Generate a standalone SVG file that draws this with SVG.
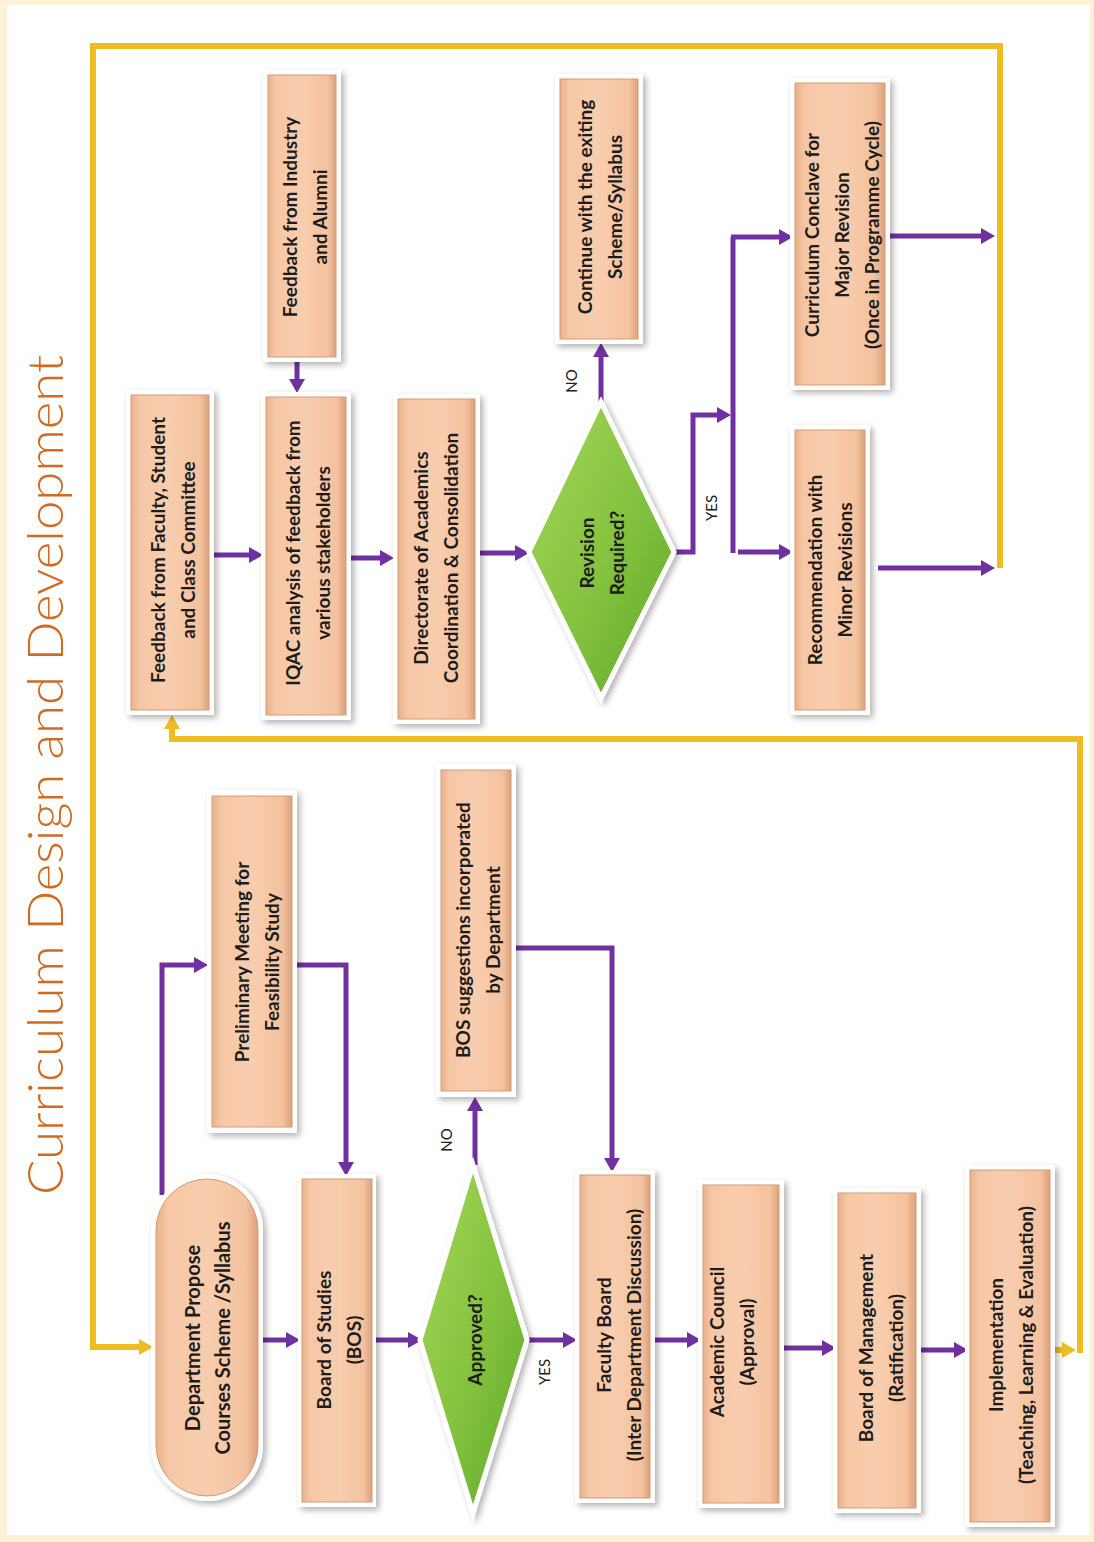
<svg xmlns="http://www.w3.org/2000/svg" width="1094" height="1542" viewBox="0 0 1094 1542">
<defs>
<linearGradient id="peach" x1="0" y1="0" x2="1" y2="0">
<stop offset="0" stop-color="#e9b28c"/>
<stop offset="0.12" stop-color="#f6c7a6"/>
<stop offset="0.5" stop-color="#f8cdae"/>
<stop offset="0.88" stop-color="#f4c29f"/>
<stop offset="1" stop-color="#dba17b"/>
</linearGradient>
<linearGradient id="green" x1="0" y1="0" x2="1" y2="1">
<stop offset="0" stop-color="#a6d65a"/>
<stop offset="0.5" stop-color="#86c440"/>
<stop offset="1" stop-color="#5fa828"/>
</linearGradient>
<filter id="sh" x="-20%" y="-20%" width="140%" height="140%">
<feDropShadow dx="3" dy="3" stdDeviation="3" flood-color="#000" flood-opacity="0.3"/>
</filter>
<marker id="ap" viewBox="0 0 14 16" markerWidth="14" markerHeight="16" refX="4" refY="8" orient="auto" markerUnits="userSpaceOnUse">
<path d="M0,0 L14,8 L0,16 z" fill="#7030a0"/>
</marker>
<marker id="ay" viewBox="0 0 14 16" markerWidth="14" markerHeight="16" refX="4" refY="8" orient="auto" markerUnits="userSpaceOnUse">
<path d="M0,0 L14,8 L0,16 z" fill="#eebd22"/>
</marker>
<style>
.box{fill:#ffffff;filter:url(#sh)}
.in{fill:url(#peach);stroke:#d39a74;stroke-width:1}
.dia{fill:url(#green);stroke:#ffffff;stroke-width:5;filter:url(#sh)}
.t{font-family:"Lato","Liberation Sans",sans-serif;font-weight:bold;font-size:19px;fill:#1c1c1c;text-anchor:middle}
.lbl{font-family:"Lato","Liberation Sans",sans-serif;font-size:15px;fill:#222;text-anchor:middle}
.p{fill:none;stroke:#7030a0;stroke-width:5;marker-end:url(#ap)}
.pn{fill:none;stroke:#7030a0;stroke-width:5}
.y{fill:none;stroke:#eebd22;stroke-width:6;marker-end:url(#ay)}
.title{font-family:"Lato","Liberation Sans",sans-serif;font-weight:300;font-size:50px;fill:#cf6c22;text-anchor:middle}
</style>
</defs>
<rect x="0" y="0" width="1094" height="1542" fill="#fdf2d8"/>
<rect x="7" y="5" width="1083" height="1530" fill="#ffffff"/>
<text class="title" transform="translate(0 775) rotate(-90)" x="0" y="63" textLength="840" lengthAdjust="spacingAndGlyphs">Curriculum Design and Development</text>

<g id="connectors">
<path class="y" d="M1000,568 V46 H93 V1347 H143"/>
<path class="y" d="M1048,1350 H1066"/>
<path class="y" d="M1080,1353 V739 H172 V725"/>
<path class="p" d="M262,1340 H290"/>
<path class="p" d="M376,1340 H412"/>
<path class="p" d="M527,1340 H567"/>
<path class="p" d="M654,1340 H691"/>
<path class="p" d="M783,1348 H826"/>
<path class="p" d="M920,1350 H958"/>
<path class="p" d="M475,1165 V1107"/>
<path class="p" d="M513,948 H612 V1162"/>
<path class="p" d="M162,1195 V965 H198"/>
<path class="p" d="M292,965 H346 V1166"/>
<path class="p" d="M212,555 H253"/>
<path class="p" d="M297,360 V383"/>
<path class="p" d="M350,558 H384"/>
<path class="p" d="M480,553 H519"/>
<path class="p" d="M601,402 V353"/>
<path class="p" d="M673,552 H693 V415 H721"/>
<path class="pn" d="M733,553 V237"/>
<path class="p" d="M731,237 H783"/>
<path class="p" d="M738,552 H783"/>
<path class="p" d="M890,236 H985"/>
<path class="p" d="M878,568 H985"/>
<text class="lbl" transform="translate(452 1140) rotate(-90)" x="0" y="0">NO</text>
<text class="lbl" transform="translate(550 1372) rotate(-90)" x="0" y="0">YES</text>
<text class="lbl" transform="translate(577 381) rotate(-90)" x="0" y="0">NO</text>
<text class="lbl" transform="translate(717 508) rotate(-90)" x="0" y="0">YES</text>
</g>

<g id="dept">
<rect class="box" x="151" y="1174" width="112" height="327" rx="56"/>
<rect class="in" x="156" y="1179" width="102" height="317" rx="51"/>
<g transform="translate(208 1338) rotate(-90)"><text class="t" style="font-size:20px"><tspan x="0" y="-8">Department Propose</tspan><tspan x="0" y="22">Courses Scheme /Syllabus</tspan></text></g>
</g>
<g id="bos">
<rect class="box" x="298" y="1174" width="78" height="333"/>
<rect class="in" x="302" y="1179" width="70" height="323"/>
<g transform="translate(339 1340) rotate(-90)"><text class="t"><tspan x="0" y="-8">Board of Studies</tspan><tspan x="0" y="22">(BOS)</tspan></text></g>
</g>
<g id="approved">
<polygon class="dia" points="473,1165 527,1340 473,1513 420,1340"/>
<g transform="translate(475 1340) rotate(-90)"><text class="t" x="0" y="7">Approved?</text></g>
</g>
<g id="bossug">
<rect class="box" x="436" y="764" width="80" height="333"/>
<rect class="in" x="441" y="770" width="70" height="321"/>
<g transform="translate(478 930) rotate(-90)"><text class="t"><tspan x="0" y="-8">BOS suggestions incorporated</tspan><tspan x="0" y="22">by Department</tspan></text></g>
</g>
<g id="prelim">
<rect class="box" x="207" y="790" width="90" height="343"/>
<rect class="in" x="212" y="796" width="80" height="331"/>
<g transform="translate(257 962) rotate(-90)"><text class="t"><tspan x="0" y="-8">Preliminary Meeting for</tspan><tspan x="0" y="22">Feasibility Study</tspan></text></g>
</g>
<g id="facultyboard">
<rect class="box" x="575" y="1170" width="80" height="333"/>
<rect class="in" x="580" y="1175" width="70" height="323"/>
<g transform="translate(619 1335) rotate(-90)"><text class="t"><tspan x="0" y="-8">Faculty Board</tspan><tspan x="0" y="22">(Inter Department Discussion)</tspan></text></g>
</g>
<g id="academic">
<rect class="box" x="698" y="1180" width="86" height="328"/>
<rect class="in" x="703" y="1185" width="76" height="318"/>
<g transform="translate(732 1342) rotate(-90)"><text class="t"><tspan x="0" y="-8">Academic Council</tspan><tspan x="0" y="22">(Approval)</tspan></text></g>
</g>
<g id="bom">
<rect class="box" x="833" y="1188" width="88" height="325"/>
<rect class="in" x="838" y="1193" width="78" height="315"/>
<g transform="translate(881 1348) rotate(-90)"><text class="t"><tspan x="0" y="-8">Board of Management</tspan><tspan x="0" y="22">(Ratification)</tspan></text></g>
</g>
<g id="impl">
<rect class="box" x="965" y="1165" width="90" height="362"/>
<rect class="in" x="970" y="1170" width="80" height="352"/>
<g transform="translate(1011 1345) rotate(-90)"><text class="t"><tspan x="0" y="-8">Implementation</tspan><tspan x="0" y="22">(Teaching, Learning &amp; Evaluation)</tspan></text></g>
</g>
<g id="fbfaculty">
<rect class="box" x="126" y="390" width="88" height="325"/>
<rect class="in" x="131" y="395" width="78" height="315"/>
<g transform="translate(173 550) rotate(-90)"><text class="t"><tspan x="0" y="-8">Feedback from Faculty, Student</tspan><tspan x="0" y="22">and Class Committee</tspan></text></g>
</g>
<g id="industry">
<rect class="box" x="263" y="70" width="78" height="292"/>
<rect class="in" x="268" y="75" width="68" height="282"/>
<g transform="translate(305 217) rotate(-90)"><text class="t"><tspan x="0" y="-8">Feedback from Industry</tspan><tspan x="0" y="22">and Alumni</tspan></text></g>
</g>
<g id="iqac">
<rect class="box" x="261" y="392" width="90" height="328"/>
<rect class="in" x="266" y="397" width="80" height="318"/>
<g transform="translate(308 553) rotate(-90)"><text class="t"><tspan x="0" y="-8">IQAC analysis of feedback from</tspan><tspan x="0" y="22">various stakeholders</tspan></text></g>
</g>
<g id="directorate">
<rect class="box" x="393" y="394" width="87" height="330"/>
<rect class="in" x="398" y="399" width="77" height="320"/>
<g transform="translate(436 558) rotate(-90)"><text class="t"><tspan x="0" y="-8">Directorate of Academics</tspan><tspan x="0" y="22">Coordination &amp; Consolidation</tspan></text></g>
</g>
<g id="revision">
<polygon class="dia" points="601,402 674,552 601,698 529,552"/>
<g transform="translate(602 553) rotate(-90)"><text class="t"><tspan x="0" y="-8">Revision</tspan><tspan x="0" y="22">Required?</tspan></text></g>
</g>
<g id="continue">
<rect class="box" x="555" y="74" width="88" height="270"/>
<rect class="in" x="560" y="79" width="78" height="260"/>
<g transform="translate(600 207) rotate(-90)"><text class="t"><tspan x="0" y="-8">Continue with the exiting</tspan><tspan x="0" y="22">Scheme/Syllabus</tspan></text></g>
</g>
<g id="conclave">
<rect class="box" x="790" y="78" width="100" height="312"/>
<rect class="in" x="795" y="83" width="90" height="302"/>
<g transform="translate(842 235) rotate(-90)"><text class="t"><tspan x="0" y="-23">Curriculum Conclave for</tspan><tspan x="0" y="7">Major Revision</tspan><tspan x="0" y="37">(Once in Programme Cycle)</tspan></text></g>
</g>
<g id="minor">
<rect class="box" x="790" y="425" width="80" height="290"/>
<rect class="in" x="795" y="430" width="70" height="280"/>
<g transform="translate(830 570) rotate(-90)"><text class="t"><tspan x="0" y="-8">Recommendation with</tspan><tspan x="0" y="22">Minor Revisions</tspan></text></g>
</g>
</svg>
